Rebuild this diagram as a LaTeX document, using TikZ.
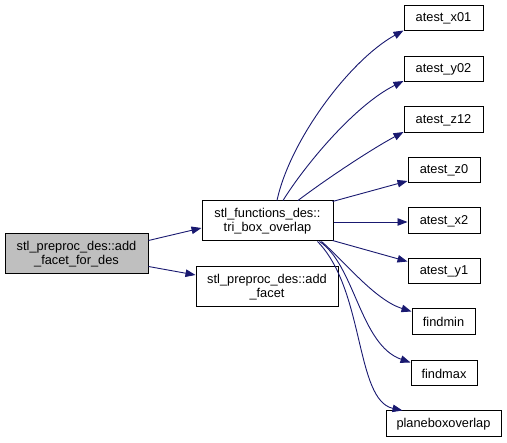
\documentclass[tikz,border=0pt]{standalone}
\usepackage{fontspec}
\setmainfont{Liberation Sans}
\usetikzlibrary{arrows.meta}
\definecolor{edgecol}{HTML}{191970}
\definecolor{mainfill}{HTML}{BFBFBF}
\begin{document}
\begin{tikzpicture}[x=1pt,y=-1pt,
  box/.style={draw=black,line width=1pt,fill=white,inner sep=0pt,align=center,
    font=\fontsize{12.8pt}{14.5pt}\selectfont},
  edge/.style={draw=edgecol,line width=0.9pt,-{Triangle[length=10pt,width=7.5pt]}}]
\useasboundingbox (0,0) rectangle (507,443);
\node[box,fill=mainfill,minimum width=143pt,minimum height=40pt] (main) at (76.5,254) {stl\_preproc\_des::add\\\_facet\_for\_des};
\node[box,minimum width=131pt,minimum height=40pt] (tri) at (267.5,221) {stl\_functions\_des::\\tri\_box\_overlap};
\node[box,minimum width=142pt,minimum height=40pt] (add) at (267,287) {stl\_preproc\_des::add\\\_facet};
\node[box,minimum width=79pt,minimum height=25pt] (x01) at (443.5,18.5) {atest\_x01};
\node[box,minimum width=79pt,minimum height=25pt] (y02) at (443.5,69.5) {atest\_y02};
\node[box,minimum width=79pt,minimum height=26pt] (z12) at (443.5,120) {atest\_z12};
\node[box,minimum width=72pt,minimum height=25pt] (z0) at (444,170.5) {atest\_z0};
\node[box,minimum width=72pt,minimum height=26pt] (x2) at (444,221) {atest\_x2};
\node[box,minimum width=72pt,minimum height=25pt] (y1) at (444,271.5) {atest\_y1};
\node[box,minimum width=63pt,minimum height=26pt] (fmin) at (443.5,322) {findmin};
\node[box,minimum width=66pt,minimum height=25pt] (fmax) at (444,373.5) {findmax};
\node[box,minimum width=115pt,minimum height=26pt] (plane) at (443.5,424) {planeboxoverlap};

\draw[edge] ([yshift=-7pt]main.north east) -- ([yshift=-7pt]tri.west);
\draw[edge] ([yshift=8pt]main.south east) -- ([yshift=12pt]add.west);

\draw[edge] ([xshift=9.5pt]tri.north) .. controls (290,140) and (350,60) .. ([yshift=1pt]x01.south west);
\draw[edge] ([xshift=15.5pt]tri.north) .. controls (305,165) and (355,105) .. ([yshift=1.5pt]y02.south west);
\draw[edge] ([xshift=30.5pt]tri.north) .. controls (325,180) and (370,150) .. ([yshift=1.5pt]z12.south west);
\draw[edge] ([yshift=-1pt,xshift=-1pt]tri.north east) -- ([yshift=2.5pt]z0.south west);
\draw[edge] ([yshift=-1pt]tri.east) -- ([yshift=-1pt]x2.west);
\draw[edge] ([yshift=1pt,xshift=-1pt]tri.south east) -- ([yshift=-3pt]y1.north west);
\draw[edge] ([xshift=-12pt]tri.south east) .. controls (345,262) and (375,300) .. ([yshift=-3pt]fmin.north west);
\draw[edge] ([xshift=-14pt]tri.south east) .. controls (355,265) and (360,345) .. ([yshift=-2pt]fmax.north west);
\draw[edge] ([xshift=-16pt]tri.south east) .. controls (365,290) and (355,400) .. ([xshift=17pt]plane.north west);
\end{tikzpicture}
\end{document}
